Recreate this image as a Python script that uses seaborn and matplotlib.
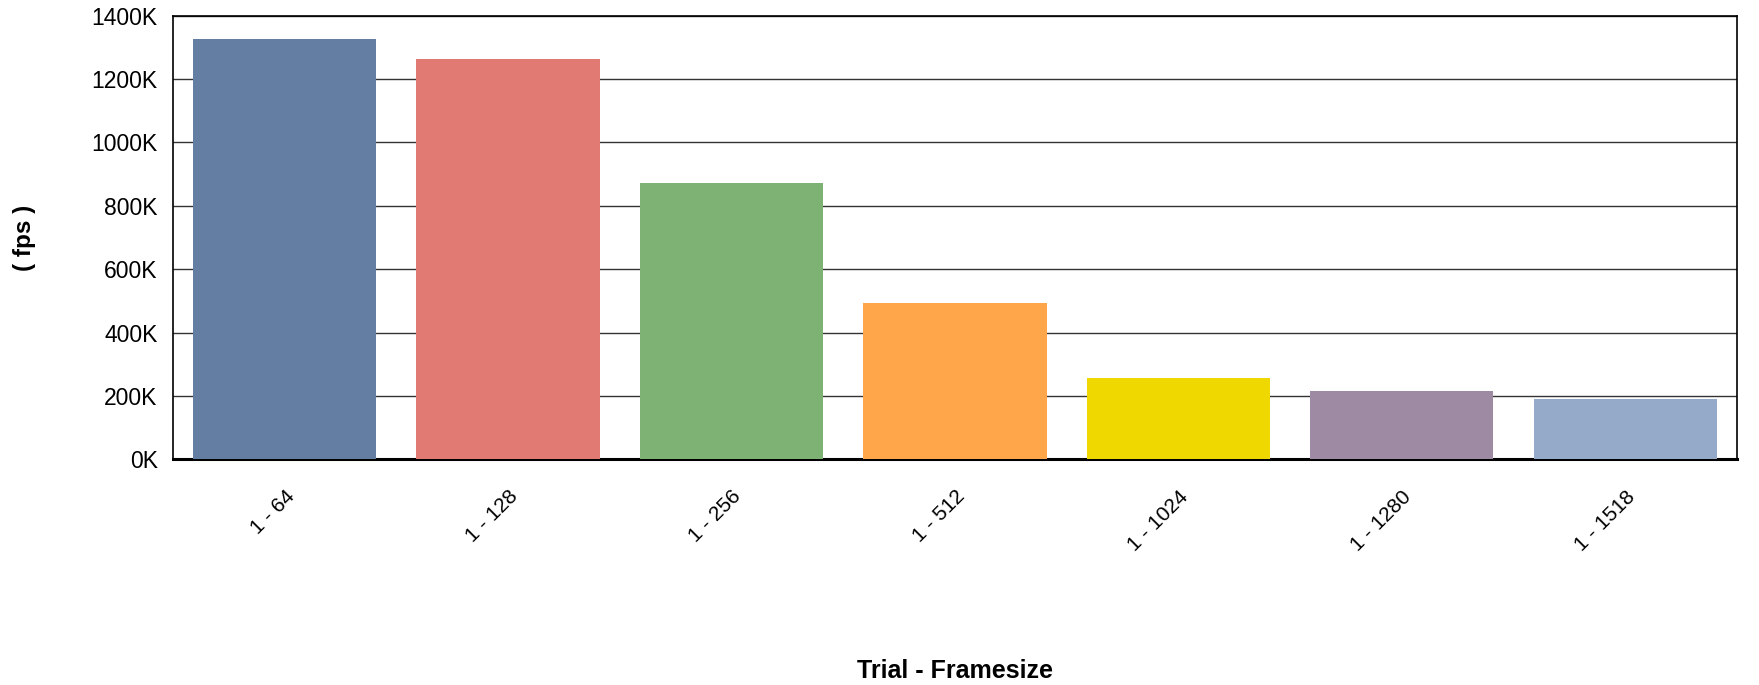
import matplotlib
matplotlib.use('Agg')
import matplotlib.pyplot as plt
import seaborn as sns
import pandas as pd
from matplotlib.ticker import FuncFormatter, MultipleLocator

# Valores
categorias = ['1 - 64', '1 - 128', '1 - 256', '1 - 512', '1 - 1024', '1 - 1280', '1 - 1518']
fps = [1326000, 1265000, 872000, 493000, 256000, 214000, 189000]
cores = ['#647DA3', '#E07A73', '#7DB274', '#FFA54A', '#EFD800', '#9E8AA3', '#94AAC8']

df = pd.DataFrame({'trial': categorias, 'fps': fps})

sns.set_theme(style='white')
plt.rcParams['font.family'] = ['Liberation Sans', 'DejaVu Sans']
plt.rcParams['text.color'] = 'black'
plt.rcParams['axes.labelcolor'] = 'black'
plt.rcParams['xtick.color'] = 'black'
plt.rcParams['ytick.color'] = 'black'

fig = plt.figure(figsize=(17.59, 6.85), dpi=100)
ax = fig.add_axes([0.0983, 0.3295, 0.8892, 0.6475])

sns.barplot(data=df, x='trial', y='fps', hue='trial', palette=cores,
            width=0.82, saturation=1, legend=False, linewidth=0, ax=ax, zorder=3)

ax.set_ylim(0, 1400000)
ax.set_xlim(-0.5, 6.5)
ax.yaxis.set_major_locator(MultipleLocator(200000))
ax.yaxis.set_major_formatter(FuncFormatter(lambda v, p: f'{int(round(v / 1000))}K'))
ax.grid(axis='y', color='#333333', linewidth=1.0, zorder=0)
ax.set_axisbelow(True)

for s in ['top', 'right', 'left']:
    ax.spines[s].set_color('black')
    ax.spines[s].set_linewidth(1.2)
ax.spines['bottom'].set_color('black')
ax.spines['bottom'].set_linewidth(2.2)

ax.tick_params(axis='y', length=0, pad=11, labelsize=16.5)
ax.tick_params(axis='x', length=0, pad=20, labelsize=15)
plt.setp(ax.get_xticklabels(), rotation=45, ha='right', rotation_mode='anchor')

ax.set_xlabel('Trial - Framesize', fontsize=18, fontweight='bold')
ax.xaxis.set_label_coords(0.5, -0.45)
ax.set_ylabel('( fps )', fontsize=17.5, fontweight='bold', va='center')
ax.yaxis.set_label_coords(-0.0946, 0.5)

fig.savefig('out.png', dpi=100, facecolor='white')
